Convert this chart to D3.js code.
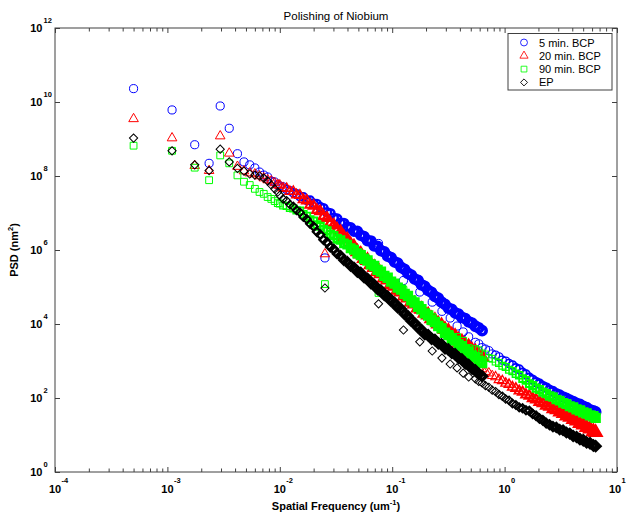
<!DOCTYPE html>
<html>
<head>
<meta charset="utf-8">
<script src="https://cdn.jsdelivr.net/npm/d3@7"></script>
<style>
  body { margin: 0; background: #fff; }
  text { font-family: "Liberation Sans", Arial, Helvetica, sans-serif; fill: #000; }
</style>
</head>
<body>
<div id="chart"></div>
<script>
// spatial frequencies (um^-1) of the large scan and of the small scan
const freqA = [5.0e-4, 1.1e-3, 1.75e-3, 2.35e-3, 2.95e-3, 3.55e-3, 4.2e-3, 4.8e-3, 5.4e-3, 6.0e-3, 6.6e-3, 7.2e-3, 7.8e-3, 8.4e-3, 9.0e-3, 9.6e-3,
  0.0100, 0.0107, 0.0115, 0.0123, 0.0132, 0.0141, 0.0151, 0.0162, 0.0174, 0.0186, 0.0200, 0.0214, 0.0229, 0.0245, 0.0263, 0.0282,
  0.0302, 0.0324, 0.0347, 0.0372, 0.0398, 0.0427, 0.0457, 0.0490, 0.0525, 0.0562, 0.0603, 0.0646, 0.0692, 0.0741, 0.0794, 0.0851,
  0.0912, 0.0977, 0.105, 0.112, 0.120, 0.129, 0.138, 0.148, 0.158, 0.170, 0.182, 0.195, 0.209, 0.224, 0.240, 0.257, 0.275, 0.295,
  0.316, 0.339, 0.363, 0.389, 0.417, 0.447, 0.479, 0.513, 0.550, 0.589, 0.631];
const freqB = [0.0252, 0.0756, 0.126, 0.176, 0.227, 0.277, 0.328, 0.378, 0.428, 0.479,
  0.550, 0.589, 0.631, 0.676, 0.724, 0.776, 0.832, 0.891, 0.955, 1.023, 1.096, 1.175, 1.259, 1.349, 1.445, 1.549, 1.660, 1.778,
  1.905, 2.042, 2.188, 2.344, 2.512, 2.692, 2.884, 3.090, 3.311, 3.548, 3.802, 4.074, 4.365, 4.677, 5.012, 5.370, 5.754, 6.166, 6.457];

// PSD (nm^2)
const psd5A = [2.3e10, 6.1e9, 7.0e8, 2.2e8, 7.8e9, 1.95e9, 4.0e8, 2.4e8, 2.0e8, 1.65e8, 1.28e8, 1.06e8, 9.4e7, 7.3e7, 6.9e7, 5.7e7,
  5.4e7, 5.1e7, 4.3e7, 4.0e7, 3.5e7, 3.3e7, 2.8e7, 2.7e7, 2.2e7, 2.2e7, 1.8e7, 1.75e7, 1.45e7, 1.35e7, 1.05e7, 9.8e6, 7.4e6, 7.0e6,
  5.3e6, 5.3e6, 4.2e6, 4.0e6, 3.2e6, 3.2e6, 2.5e6, 2.3e6, 1.8e6, 1.75e6, 1.3e6, 1.25e6, 9.6e5, 8.9e5, 6.8e5, 6.2e5, 4.8e5, 4.4e5,
  3.4e5, 3.0e5, 2.35e5, 2.1e5, 1.65e5, 1.5e5, 1.15e5, 1.04e5, 8.1e4, 7.2e4, 5.6e4, 5.0e4, 3.9e4, 3.4e4, 2.7e4, 2.5e4, 2.0e4, 1.85e4,
  1.5e4, 1.4e4, 1.15e4, 1.05e4, 8.7e3, 7.9e3, 6.6e3];
const psd5B = [6.1e5, 1.5e6, 1.5e5, 7.3e4, 3.9e4, 2.2e4, 1.45e4, 8.8e3, 6.1e3, 4.5e3,
  3.2e3, 2.9e3, 2.3e3, 2.1e3, 1.9e3, 1.55e3, 1.45e3, 1.3e3, 1.05e3, 990, 850, 780, 650, 600, 490, 440, 355, 315, 270, 245,
  210, 192, 165, 152, 133, 122, 108, 99, 88, 81, 72, 67, 59, 55, 48, 45, 42];

const psd20A = [3.5e9, 1.06e9, 1.9e8, 1.39e8, 1.2e9, 4.1e8, 1.8e8, 1.36e8, 1.2e8, 1.13e8, 1.0e8, 8.8e7, 7.8e7, 7.3e7, 6.5e7, 5.7e7,
  5.6e7, 4.7e7, 4.6e7, 3.8e7, 3.8e7, 3.1e7, 3.0e7, 2.3e7, 2.15e7, 1.65e7, 1.55e7, 1.2e7, 1.1e7, 8.2e6, 7.3e6, 5.4e6, 4.7e6, 3.6e6,
  3.1e6, 2.25e6, 1.95e6, 1.42e6, 1.24e6, 9.0e5, 7.8e5, 5.9e5, 5.2e5, 4.0e5, 3.4e5, 2.6e5, 2.3e5, 1.75e5, 1.55e5, 1.18e5, 1.06e5, 8.2e4,
  7.4e4, 5.7e4, 5.1e4, 3.9e4, 3.5e4, 2.7e4, 2.5e4, 1.95e4, 1.75e4, 1.4e4, 1.25e4, 1.0e4, 9.0e3, 7.1e3, 6.4e3, 5.1e3, 4.6e3, 3.7e3,
  3.3e3, 2.7e3, 2.45e3, 1.95e3, 1.76e3, 1.42e3, 1.24e3];
const psd20B = [7.8e5, 3.3e5, 6.1e4, 2.4e4, 1.13e4, 6.9e3, 4.5e3, 2.9e3, 1.86e3, 1.2e3,
  830, 680, 610, 515, 470, 400, 370, 310, 290, 248, 230, 196, 182, 155, 145, 123, 114, 98, 91, 78,
  72, 62, 58, 50, 47, 41, 37.5, 32.5, 30, 26, 23.8, 20.6, 18.8, 16, 14.6, 12.5, 11.8];

const psd90A = [6.6e8, 4.8e8, 1.68e8, 7.7e7, 3.6e8, 2.2e8, 1.04e8, 7.0e7, 5.7e7, 4.5e7, 3.7e7, 3.3e7, 2.7e7, 2.4e7, 2.1e7, 1.86e7,
  1.8e7, 1.6e7, 1.55e7, 1.38e7, 1.34e7, 1.18e7, 1.15e7, 9.3e6, 8.3e6, 6.6e6, 6.1e6, 4.8e6, 4.4e6, 3.6e6, 3.3e6, 2.65e6, 2.45e6, 2.0e6,
  1.86e6, 1.5e6, 1.4e6, 1.12e6, 1.02e6, 8.1e5, 7.3e5, 5.8e5, 5.2e5, 4.1e5, 3.7e5, 2.9e5, 2.6e5, 2.0e5, 1.78e5, 1.4e5, 1.23e5, 9.6e4,
  8.5e4, 6.5e4, 5.7e4, 4.35e4, 3.8e4, 2.9e4, 2.5e4, 1.94e4, 1.7e4, 1.3e4, 1.13e4, 8.8e3, 7.6e3, 5.8e3, 5.0e3, 4.0e3, 3.55e3, 2.8e3,
  2.5e3, 2.0e3, 1.78e3, 1.42e3, 1.26e3, 1.01e3, 880];
const psd90B = [1.2e5, 6.9e4, 8.3e4, 3.3e4, 1.55e4, 8.3e3, 5.0e3, 4.5e3, 3.5e3, 2.25e3,
  2.1e3, 1.95e3, 1.6e3, 1.5e3, 1.2e3, 1.15e3, 960, 880, 740, 690, 580, 535, 450, 410, 335, 300, 245, 218, 185, 170,
  145, 132, 113, 106, 91, 85, 74, 69, 60, 56, 49, 46, 41, 38, 34, 32, 29];

const psdEPA = [1.06e9, 4.8e8, 2.0e8, 1.4e8, 5.3e8, 2.4e8, 1.6e8, 1.36e8, 1.13e8, 1.06e8, 1.0e8, 8.8e7, 7.3e7, 5.7e7, 4.5e7, 3.7e7,
  3.0e7, 2.4e7, 2.15e7, 1.7e7, 1.5e7, 1.18e7, 1.04e7, 7.8e6, 6.8e6, 5.1e6, 4.3e6, 3.1e6, 2.6e6, 1.9e6, 1.6e6, 1.2e6, 1.05e6, 7.9e5,
  7.0e5, 5.3e5, 4.8e5, 3.7e5, 3.35e5, 2.6e5, 2.4e5, 1.84e5, 1.66e5, 1.28e5, 1.14e5, 8.8e4, 8.0e4, 6.1e4, 5.5e4, 4.2e4, 3.7e4, 2.8e4,
  2.5e4, 1.85e4, 1.62e4, 1.21e4, 1.06e4, 8.0e3, 6.9e3, 5.3e3, 5.0e3, 4.0e3, 3.7e3, 3.0e3, 2.8e3, 2.2e3, 2.05e3, 1.66e3, 1.52e3, 1.22e3,
  1.1e3, 870, 780, 620, 555, 445, 390];
const psdEPB = [9.4e4, 3.5e4, 6.9e3, 3.3e3, 1.86e3, 1.2e3, 830, 650, 470, 370,
  330, 280, 255, 215, 195, 163, 148, 124, 112, 94, 86, 71, 65, 56, 53, 47, 45, 37, 33, 28,
  25, 21, 19, 16.8, 16, 14, 13.5, 11.7, 10.9, 9.4, 8.8, 7.7, 7.2, 6.3, 6.0, 5.2, 5.0];

const seriesNames = ["5 min. BCP", "20 min. BCP", "90 min. BCP", "EP"];
const xMajor = [1e-4, 1e-3, 1e-2, 1e-1, 1e0, 1e1];
const xExp = ["-4", "-3", "-2", "-1", "0", "1"];
const yMajor = [1e0, 1e2, 1e4, 1e6, 1e8, 1e10, 1e12];
const yExp = ["0", "2", "4", "6", "8", "10", "12"];

const width = 626, height = 514;
const plotLeft = 55, plotRight = 617, plotTop = 28, plotBottom = 472;

const svg = d3.select("#chart").append("svg")
    .attr("width", width)
    .attr("height", height);

const x = d3.scaleLog().domain([1e-4, 1e1]).range([plotLeft, plotRight]);
const y = d3.scaleLog().domain([1e0, 1e12]).range([plotBottom, plotTop]);

const axisColor = "#404040";

// minor + major ticks, bottom and top, pointing inwards
const xMinor = x.ticks().filter(v => !xMajor.some(m => Math.abs(m - v) / m < 1e-9));
function xTicks(g, axis, vals, size) {
  g.call(axis(x).tickValues(vals).tickSize(-size).tickFormat(() => ""));
  g.select(".domain").remove();
  g.selectAll("line").attr("stroke", axisColor);
}
svg.append("g").attr("transform", `translate(0,${plotBottom})`).call(g => xTicks(g, d3.axisBottom, xMinor, 3.5));
svg.append("g").attr("transform", `translate(0,${plotBottom})`).call(g => xTicks(g, d3.axisBottom, xMajor, 5));
svg.append("g").attr("transform", `translate(0,${plotTop})`).call(g => xTicks(g, d3.axisTop, xMinor, 3.5));
svg.append("g").attr("transform", `translate(0,${plotTop})`).call(g => xTicks(g, d3.axisTop, xMajor, 5));

function yTicks(g, axis) {
  g.call(axis(y).tickValues(yMajor).tickSize(-5).tickFormat(() => ""));
  g.select(".domain").remove();
  g.selectAll("line").attr("stroke", axisColor);
}
svg.append("g").attr("transform", `translate(${plotLeft},0)`).call(g => yTicks(g, d3.axisLeft));
svg.append("g").attr("transform", `translate(${plotRight},0)`).call(g => yTicks(g, d3.axisRight));

svg.append("rect")
    .attr("x", plotLeft).attr("y", plotTop)
    .attr("width", plotRight - plotLeft).attr("height", plotBottom - plotTop)
    .attr("fill", "none").attr("stroke", axisColor).attr("stroke-width", 1);

// tick labels  10^n
const xl = svg.append("g").attr("font-weight", "bold");
xMajor.forEach((v, i) => {
  const last = i === xMajor.length - 1;
  const cx = x(v) - (last ? 2 : 0);
  xl.append("text").attr("x", cx).attr("y", plotBottom + 21)
    .attr("text-anchor", "middle").attr("font-size", 11).text("10");
  xl.append("text").attr("x", cx + 6.5).attr("y", plotBottom + 11)
    .attr("font-size", 7.5).text(xExp[i]);
});
const yl = svg.append("g").attr("font-weight", "bold");
yMajor.forEach((v, i) => {
  yl.append("text").attr("x", 42.5).attr("y", y(v) + 4)
    .attr("text-anchor", "end").attr("font-size", 11).text("10");
  yl.append("text").attr("x", 43.5).attr("y", y(v) - 5)
    .attr("font-size", 7.5).text(yExp[i]);
});

// title and axis labels
svg.append("text").attr("x", (plotLeft + plotRight) / 2).attr("y", 20)
    .attr("text-anchor", "middle").attr("font-size", 11.5).text("Polishing of Niobium");

const xlab = svg.append("text").attr("x", (plotLeft + plotRight) / 2).attr("y", 510)
    .attr("text-anchor", "middle").attr("font-size", 11).attr("font-weight", "bold");
xlab.append("tspan").text("Spatial Frequency (um");
xlab.append("tspan").attr("font-size", 7.5).attr("dy", -5).text("-1");
xlab.append("tspan").attr("dy", 5).text(")");

const ylab = svg.append("text")
    .attr("transform", `translate(18,${(plotTop + plotBottom) / 2}) rotate(-90)`)
    .attr("text-anchor", "middle").attr("font-size", 11).attr("font-weight", "bold");
ylab.append("tspan").text("PSD (nm");
ylab.append("tspan").attr("font-size", 7.5).attr("dy", -5).text("2");
ylab.append("tspan").attr("dy", 5).text(")");

// markers
const circle = d3.symbol().type(d3.symbolCircle).size(52)();
const triangle = d3.symbol().type(d3.symbolTriangle).size(40)();
const square = d3.symbol().type(d3.symbolSquare).size(46)();
const diamond = d3.symbol().type(d3.symbolSquare).size(34)();

const series = [
  {name: seriesNames[0], color: "#0000ff", path: circle, rot: 0, scans: [[freqA, psd5A], [freqB, psd5B]]},
  {name: seriesNames[1], color: "#ff0000", path: triangle, rot: 0, scans: [[freqA, psd20A], [freqB, psd20B]]},
  {name: seriesNames[2], color: "#00ff00", path: square, rot: 0, scans: [[freqA, psd90A], [freqB, psd90B]]},
  {name: seriesNames[3], color: "#000000", path: diamond, rot: 45, scans: [[freqA, psdEPA], [freqB, psdEPB]]}
];

// each scan is sampled linearly in frequency (step = first gap), so the real marks
// pile up towards its high end; a thicker stroke stands in for that crowding.
// pixel gap between neighbouring samples at f: decadePx * log10(1 + df / f)
const decadePx = x(10) - x(1);
const crowd = d3.scaleLog().domain([3, 0.5]).range([1, 3.6]).clamp(true);

const plot = svg.append("g");
series.forEach(s => {
  const g = plot.append("g")
      .attr("fill", "none")
      .attr("stroke", s.color);
  s.scans.forEach(([f, p]) => {
    const df = f[1] - f[0];
    g.selectAll(null)
      .data(d3.zip(f, p))
      .join("path")
      .attr("d", s.path)
      .attr("stroke-width", d => crowd(decadePx * Math.log10(1 + df / d[0])))
      .attr("transform", d => `translate(${x(d[0])},${y(d[1])}) rotate(${s.rot})`);
  });
});

// legend
const lg = svg.append("g").attr("transform", "translate(508,33.5)");
lg.append("rect").attr("width", 104).attr("height", 56.5)
    .attr("fill", "#fff").attr("stroke", axisColor);
series.forEach((s, i) => {
  const yy = 9 + i * 13.3;
  lg.append("path").attr("d", s.path)
    .attr("transform", `translate(16,${yy}) rotate(${s.rot}) scale(0.85)`)
    .attr("fill", "none").attr("stroke", s.color).attr("stroke-width", 1);
  lg.append("text").attr("x", 31).attr("y", yy + 4)
    .attr("font-size", 11).text(s.name);
});
</script>
</body>
</html>
